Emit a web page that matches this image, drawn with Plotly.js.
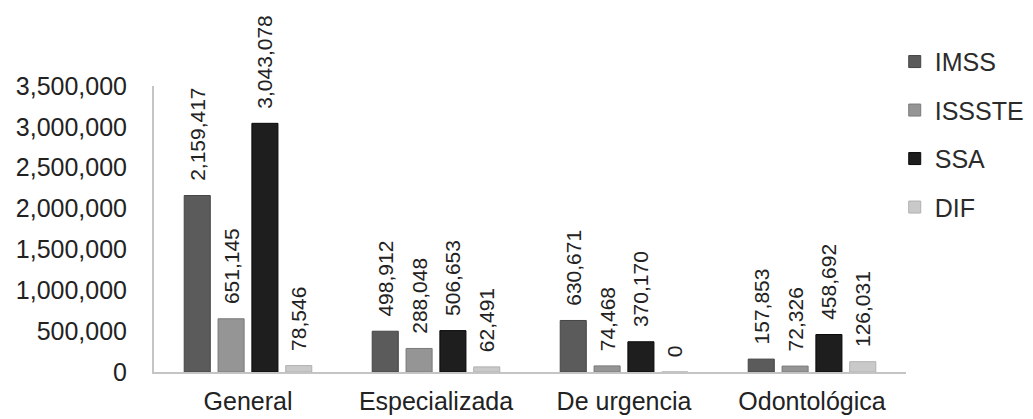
<!DOCTYPE html>
<html>
<head>
<meta charset="utf-8">
<script src="https://cdn.plot.ly/plotly-3.0.1.min.js"></script>
<style>html,body{margin:0;padding:0;background:#fff;}#chart{width:1033px;height:419px;}</style>
</head>
<body>
<div id="chart"></div>
<script>
const categories = ["General", "Especializada", "De urgencia", "Odontológica"];
const seriesNames = ["IMSS", "ISSSTE", "SSA", "DIF"];
const imss = [2159417, 498912, 630671, 157853];
const issste = [651145, 288048, 74468, 72326];
const ssa = [3043078, 506653, 370170, 458692];
const dif = [78546, 62491, 0, 126031];
const yTickVals = [0, 500000, 1000000, 1500000, 2000000, 2500000, 3000000, 3500000];

const fills = ["#5b5b5b", "#959595", "#1e1e1e", "#c9c9c9"];
const lines = ["#444444", "#7a7a7a", "#0a0a0a", "#b0b0b0"];
const values = [imss, issste, ssa, dif];

const font = "Liberation Sans, Arial, sans-serif";
const traces = values.map((v, i) => ({
  type: "bar",
  name: seriesNames[i],
  legendgroup: seriesNames[i],
  x: categories,
  y: v,
  marker: {color: fills[i], line: {color: lines[i], width: 1}},
  texttemplate: "\u00A0\u00A0%{y:,}",
  textposition: "outside",
  textangle: -90,
  constraintext: "none",
  cliponaxis: false,
  textfont: {family: font, size: 21, color: "#222222"},
  hoverinfo: "none"
}));

const layout = {
  width: 1033,
  height: 419,
  margin: {l: 154, r: 127, t: 86, b: 47, autoexpand: false},
  paper_bgcolor: "#ffffff",
  plot_bgcolor: "#ffffff",
  barmode: "group",
  bargap: 0.28,
  bargroupgap: 0.23,
  showlegend: true,
  legend: {
    x: 0.985, xanchor: "left", y: 1.165, yanchor: "top",
    traceorder: "grouped", tracegroupgap: 13,
    font: {family: font, size: 25, color: "#2b2b2b"},
    itemwidth: 30
  },
  xaxis: {
    type: "category",
    showline: true, linecolor: "#c4c4c4", linewidth: 2,
    showgrid: false, ticks: "",
    ticklabelstandoff: 6,
    tickfont: {family: font, size: 25, color: "#222222"}
  },
  yaxis: {
    range: [0, 3500000],
    tickvals: yTickVals,
    tickformat: ",",
    showline: true, linecolor: "#c4c4c4", linewidth: 2,
    showgrid: false, zeroline: false, ticks: "",
    ticklabelstandoff: 20,
    tickfont: {family: font, size: 25, color: "#222222"}
  }
};

Plotly.newPlot("chart", traces, layout, {displayModeBar: false, staticPlot: true});
</script>
</body>
</html>
